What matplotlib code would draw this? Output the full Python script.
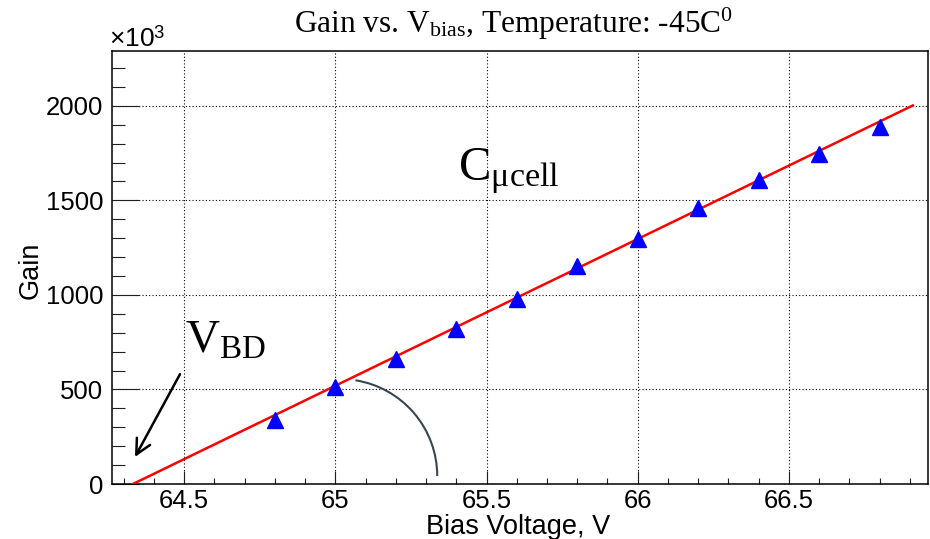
import numpy as np
import matplotlib
matplotlib.use("Agg")
import matplotlib.pyplot as plt
from matplotlib.patches import Arc
from matplotlib.ticker import MultipleLocator, FormatStrFormatter
from matplotlib.transforms import ScaledTranslation


# ==============================
# DATA (gain in units of 10^3)
# ==============================
bias_v = [64.8, 65.0, 65.2, 65.4, 65.6, 65.8, 66.0, 66.2, 66.4, 66.6, 66.8]
gain_k = [338, 512, 660, 819, 977, 1152, 1294, 1458, 1606, 1743, 1886]

# linear fit: gain = slope * (V - V_BD)
fit_slope = 776.0
fit_vbd = 64.33
fit_vmax = 66.91

x_range = (64.26, 66.96)
y_range = (0, 2290)

title = r"Gain vs. V$_{\mathrm{bias}}$, Temperature: -45C$^{\mathrm{0}}$"
x_label = "Bias Voltage, V"
y_label = "Gain"


# ==============================
# STYLE
# ==============================
plt.rcParams['font.family'] = ['Liberation Sans', 'DejaVu Sans']
plt.rcParams['mathtext.fontset'] = 'custom'
plt.rcParams['mathtext.rm'] = 'Liberation Serif'
plt.rcParams['mathtext.it'] = 'Liberation Serif:italic'
plt.rcParams['mathtext.sf'] = 'Liberation Sans'

SERIF = ['Liberation Serif', 'DejaVu Serif']


def main():
    fig = plt.figure(figsize=(9.3, 5.39), dpi=100)
    ax = fig.add_axes([0.1201, 0.1020, 0.8777, 0.8034])

    # --------------------------
    # DATA POINTS + FIT
    # --------------------------
    fx = np.array([fit_vbd, fit_vmax])
    fy = fit_slope * (fx - fit_vbd)
    ax.plot(fx, fy, color='red', lw=1.8, zorder=3)
    ax.plot(bias_v, gain_k, ls='none', marker='^', ms=11,
            color='blue', mec='blue', zorder=4)

    # --------------------------
    # AXES
    # --------------------------
    ax.set_xlim(*x_range)
    ax.set_ylim(*y_range)
    ax.xaxis.set_major_locator(MultipleLocator(0.5))
    ax.xaxis.set_minor_locator(MultipleLocator(0.1))
    ax.yaxis.set_major_locator(MultipleLocator(500))
    ax.yaxis.set_minor_locator(MultipleLocator(100))
    ax.xaxis.set_major_formatter(FormatStrFormatter('%g'))
    ax.yaxis.set_major_formatter(FormatStrFormatter('%g'))

    ax.tick_params(axis='both', which='both', direction='in', color='#202020',
                   width=0.8, labelsize=18.5, top=False, right=False)
    ax.tick_params(axis='y', which='major', length=19.4, pad=6)
    ax.tick_params(axis='y', which='minor', length=9.6)
    ax.tick_params(axis='x', which='major', length=9.4, pad=3.5)
    ax.tick_params(axis='x', which='minor', length=4.4)

    ax.grid(True, which='major', color='black', lw=0.8, ls=(0, (1, 2)))
    for sp in ax.spines.values():
        sp.set_linewidth(1.1)
        sp.set_color('black')

    # --------------------------
    # ANNOTATIONS
    # --------------------------
    ax.annotate('', xy=(64.337, 143), xytext=(64.486, 581),
                arrowprops=dict(arrowstyle='->', lw=1.8, color='black',
                                mutation_scale=27, shrinkA=0, shrinkB=0))

    arc_tr = fig.dpi_scale_trans + ScaledTranslation(65.016, 42, ax.transData)
    ax.add_patch(Arc((0, 0), 1.94, 1.94, theta1=0, theta2=81,
                     color='#37474f', lw=1.5, transform=arc_tr, zorder=2))

    ax.text(64.503, 697, r"V$_{\mathrm{BD}}$", family=SERIF, fontsize=34,
            va='baseline', ha='left')
    ax.text(65.407, 1606, r"C$_{\mathrm{\mu cell}}$", family=SERIF, fontsize=35,
            va='baseline', ha='left')

    # --------------------------
    # LABELS
    # --------------------------
    fig.text(514 / 930, 1 - 33 / 539, title, family=SERIF, fontsize=22.6,
             ha='center', va='baseline')
    fig.text(109 / 930, 1 - 47 / 539, "×10$^{\\mathsf{3}}$",
             fontsize=19, ha='left', va='baseline')
    fig.text(518 / 930, 1 - 534 / 539, x_label, fontsize=19.5,
             ha='center', va='baseline')
    fig.text(31 / 930, 1 - 270 / 539, y_label, fontsize=19.5,
             ha='center', va='center', rotation=90)

    fig.savefig("out.png", dpi=100)


if __name__ == "__main__":
    main()
